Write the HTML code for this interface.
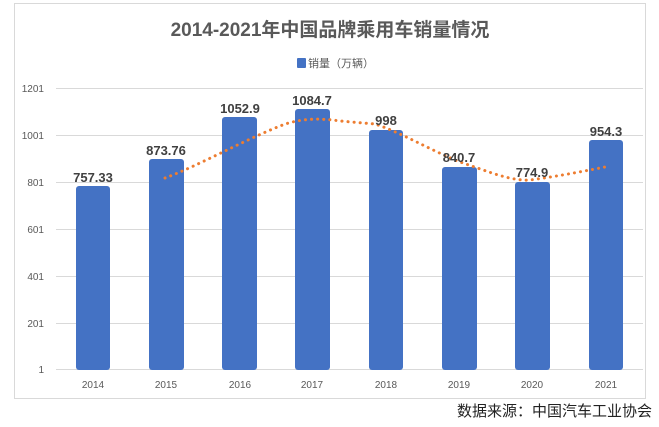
<!DOCTYPE html>
<html><head><meta charset="utf-8"><style>
body{margin:0;background:#fff;width:659px;height:427px;overflow:hidden;font-family:"Liberation Sans","Noto Sans CJK SC",sans-serif}
</style></head><body>
<svg width="659" height="427" xmlns="http://www.w3.org/2000/svg" style="position:absolute;left:0;top:0">
<rect x="14.5" y="3.5" width="631" height="395" fill="#fff" stroke="#d9d9d9"/>
<text x="330" y="36" text-anchor="middle" font-size="19" font-weight="bold" fill="#595959" font-family="Liberation Sans,Noto Sans CJK SC,sans-serif">2014-2021年中国品牌乘用车销量情况</text>
<rect x="297" y="58" width="9" height="10" rx="1" fill="#4472C4"/>
<text x="308" y="67" font-size="11" fill="#595959" font-family="Liberation Sans,Noto Sans CJK SC,sans-serif">销量（万辆）</text>
<g stroke="#d9d9d9" stroke-width="1">
<line x1="56" x2="643" y1="88.5" y2="88.5"/><line x1="56" x2="643" y1="135.5" y2="135.5"/>
<line x1="56" x2="643" y1="182.5" y2="182.5"/><line x1="56" x2="643" y1="229.5" y2="229.5"/>
<line x1="56" x2="643" y1="276.5" y2="276.5"/><line x1="56" x2="643" y1="323.5" y2="323.5"/>
<line x1="56" x2="643" y1="369.5" y2="369.5"/></g>
<g font-size="10" fill="#595959" text-anchor="end">
<text x="44" y="92">1201</text><text x="44" y="139">1001</text><text x="44" y="186">801</text>
<text x="44" y="233">601</text><text x="44" y="280">401</text><text x="44" y="327">201</text><text x="44" y="373">1</text></g>
<g fill="#4472C4">
<rect x="76" y="186" width="34" height="184" rx="3"/>
<rect x="149" y="159" width="35" height="211" rx="3"/>
<rect x="222" y="117" width="35" height="253" rx="3"/>
<rect x="295" y="109" width="35" height="261" rx="3"/>
<rect x="369" y="130" width="34" height="240" rx="3"/>
<rect x="442" y="167" width="35" height="203" rx="3"/>
<rect x="515" y="182" width="35" height="188" rx="3"/>
<rect x="589" y="140" width="34" height="230" rx="3"/></g>
<path d="M165,178 C200,165 240,142 280,126 C300,118 320,118 340,121 L375,124 C400,132 430,150 460,162 C490,172 510,181 530,180 C560,176 590,170 610,166" fill="none" stroke="#ED7D31" stroke-width="3" stroke-dasharray="0.1 6" stroke-linecap="round"/>
<g font-size="13" font-weight="bold" fill="#404040" text-anchor="middle">
<text x="93" y="182">757.33</text><text x="166" y="155">873.76</text><text x="240" y="113">1052.9</text>
<text x="312" y="105">1084.7</text><text x="386" y="125">998</text><text x="459" y="162">840.7</text>
<text x="532" y="177">774.9</text><text x="606" y="136">954.3</text></g>
<g font-size="10" fill="#595959" text-anchor="middle">
<text x="93" y="388">2014</text><text x="166" y="388">2015</text><text x="240" y="388">2016</text>
<text x="312" y="388">2017</text><text x="386" y="388">2018</text><text x="459" y="388">2019</text>
<text x="532" y="388">2020</text><text x="606" y="388">2021</text></g>
<text x="652" y="416" text-anchor="end" font-size="15" fill="#222" font-family="Liberation Sans,Noto Sans CJK SC,sans-serif">数据来源：中国汽车工业协会</text>
</svg>
</body></html>
